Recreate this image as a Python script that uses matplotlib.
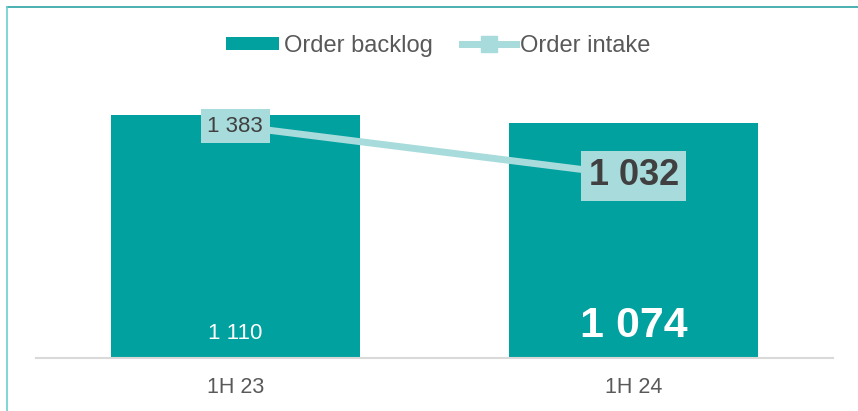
import matplotlib.pyplot as plt
from matplotlib.lines import Line2D
from matplotlib.patches import Patch

plt.rcParams["font.family"] = ["Liberation Sans", "DejaVu Sans"]

periods = ["1H 23", "1H 24"]
order_backlog = [1110, 1074]
order_intake = [1383, 1032]
backlog_labels = ["1 110", "1 074"]
intake_labels = ["1 383", "1 032"]

BAR_COLOR = "#00A19F"
LINE_COLOR = "#A8DBDB"
TEXT_COLOR = "#595959"
LABEL_COLOR = "#404040"

fig = plt.figure(figsize=(8.58, 4.11), dpi=100)
ax = fig.add_axes([36 / 858, 53 / 411, 797 / 858, 278 / 411])
ax2 = ax.twinx()

x = list(range(len(periods)))
ax.bar(x, order_backlog, width=0.625, color=BAR_COLOR, zorder=2)
ax.set_xlim(-0.5, 1.5)
ax.set_ylim(0, 1271)

ax2.plot(x, order_intake, color=LINE_COLOR, linewidth=5, marker="s",
         markersize=11, zorder=3)
ax2.set_ylim(-246, 1706)

# bar labels (white, inside bars near the bottom)
ax.annotate(backlog_labels[0], (x[0], 0), xytext=(0, 18), textcoords="offset points",
            ha="center", va="center", color="white", fontsize=16)
ax.annotate(backlog_labels[1], (x[1], 0), xytext=(0, 23), textcoords="offset points",
            ha="center", va="center", color="white", fontsize=31, fontweight="bold")

# line labels in boxes
ax2.text(x[0], order_intake[0], intake_labels[0], ha="center", va="center",
         color=LABEL_COLOR, fontsize=16, zorder=5,
         bbox=dict(boxstyle="square,pad=0.3", facecolor=LINE_COLOR, edgecolor="none"))
ax2.text(x[1], order_intake[1], intake_labels[1], ha="center", va="center",
         color=LABEL_COLOR, fontsize=26, fontweight="bold", zorder=5,
         bbox=dict(boxstyle="square,pad=0.2", facecolor=LINE_COLOR, edgecolor="none"))

for a in (ax, ax2):
    for side in ["top", "right", "left"]:
        a.spines[side].set_visible(False)
    a.set_yticks([])
ax2.spines["bottom"].set_visible(False)
ax.spines["bottom"].set_color("#D9D9D9")
ax.spines["bottom"].set_linewidth(1.5)
ax.set_xticks(x)
ax.set_xticklabels(periods, fontsize=15.5, color=TEXT_COLOR)
ax.tick_params(axis="x", length=0, pad=14)

handles = [
    Patch(facecolor=BAR_COLOR, edgecolor="none"),
    Line2D([], [], color=LINE_COLOR, linewidth=5, marker="s", markersize=11),
]
fig.legend(handles, ["Order backlog", "Order intake"], loc="center",
           bbox_to_anchor=(0.511, 1 - 46 / 411), ncol=2, frameon=False,
           fontsize=17, labelcolor=TEXT_COLOR, handlelength=2.25,
           handleheight=0.5, handletextpad=0.2, columnspacing=1.25)

# outer frame lines (top and left)
fig.add_artist(Line2D([7 / 858, 1], [1 - 7 / 411, 1 - 7 / 411],
                      transform=fig.transFigure, color="#2BA3A3", linewidth=1.2))
fig.add_artist(Line2D([7 / 858, 7 / 858], [0, 1 - 7 / 411],
                      transform=fig.transFigure, color="#6CCFD0", linewidth=1.2))

fig.savefig("out.png", dpi=100)
